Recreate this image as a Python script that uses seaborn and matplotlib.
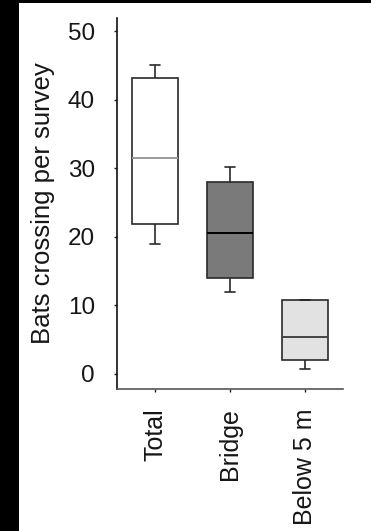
import numpy as np
import pandas as pd
import matplotlib
matplotlib.use("Agg")
import matplotlib.pyplot as plt
import seaborn as sns
from matplotlib.patches import Rectangle

categories = ["Total", "Bridge", "Below 5 m"]
# five-number summaries: min, Q1, median, Q3, max
total_vals = [19.0, 21.9, 31.5, 43.1, 45.0]
bridge_vals = [12.0, 14.0, 20.6, 28.0, 30.2]
below_vals = [0.7, 2.0, 5.4, 10.8, 10.8]
fill_colors = ["#ffffff", "#7a7a7a", "#e2e2e2"]
median_colors = ["#9a9a9a", "#000000", "#444444"]
yticks = [0, 10, 20, 30, 40, 50]
ylabel = "Bats crossing per survey"

rows = []
for cat, vals in zip(categories, [total_vals, bridge_vals, below_vals]):
    for v in vals:
        rows.append({"group": cat, "value": v})
df = pd.DataFrame(rows)

sns.set_style("white")
plt.rcParams["font.family"] = ["Liberation Sans", "DejaVu Sans"]
plt.rcParams["text.color"] = "#161616"
plt.rcParams["axes.labelcolor"] = "#161616"
plt.rcParams["xtick.color"] = "#161616"
plt.rcParams["ytick.color"] = "#161616"

fig = plt.figure(figsize=(3.71, 5.31), dpi=100)
ax = fig.add_axes([117 / 371, 1 - 389 / 531, (343 - 117) / 371, (389 - 18) / 531])

sns.boxplot(data=df, x="group", y="value", order=categories, hue="group",
            hue_order=categories, palette=fill_colors, legend=False,
            whis=(0, 100), width=0.61, linecolor="#2a2a2a", linewidth=1.2,
            showfliers=False, saturation=1, ax=ax)

# shorten caps and colour medians
box_w = 0.61
for line in ax.lines:
    xd = np.asarray(line.get_xdata(), dtype=float)
    yd = np.asarray(line.get_ydata(), dtype=float)
    if len(xd) == 2 and yd[0] == yd[1]:
        length = abs(xd[1] - xd[0])
        c = xd.mean()
        idx = int(round(c))
        if length < box_w * 0.9:
            line.set_xdata([c - 0.065, c + 0.065])
        else:
            line.set_color(median_colors[idx])
            line.set_linewidth(1.4)

ax.set_xlim(-0.51, 2.51)
ax.set_ylim(-2.2, 51.9)
ax.set_yticks(yticks)
ax.set_yticklabels([str(t) for t in yticks])
ax.set_xlabel("")
ax.set_ylabel(ylabel, fontsize=18.5, labelpad=9)
ax.tick_params(axis="y", labelsize=17.5, length=2, width=1, pad=14, direction="out", left=True, color="#222222")
ax.tick_params(axis="x", labelsize=18, length=2, width=1, pad=12, rotation=90, bottom=True, color="#222222")
for lbl in ax.get_xticklabels():
    lbl.set_va("top")
for s in ["top", "right"]:
    ax.spines[s].set_visible(False)
ax.spines["left"].set_color("#111111")
ax.spines["bottom"].set_color("#555555")
ax.spines["left"].set_linewidth(1.2)
ax.spines["bottom"].set_linewidth(1.2)

# black framing strips of the original picture
fig.patches.append(Rectangle((0, 0), 19 / 371, 1, transform=fig.transFigure,
                             facecolor="black", edgecolor="none", zorder=-1))
fig.patches.append(Rectangle((0, 1 - 3 / 531), 1, 3 / 531, transform=fig.transFigure,
                             facecolor="black", edgecolor="none", zorder=-1))

fig.savefig("out.png", dpi=100)
